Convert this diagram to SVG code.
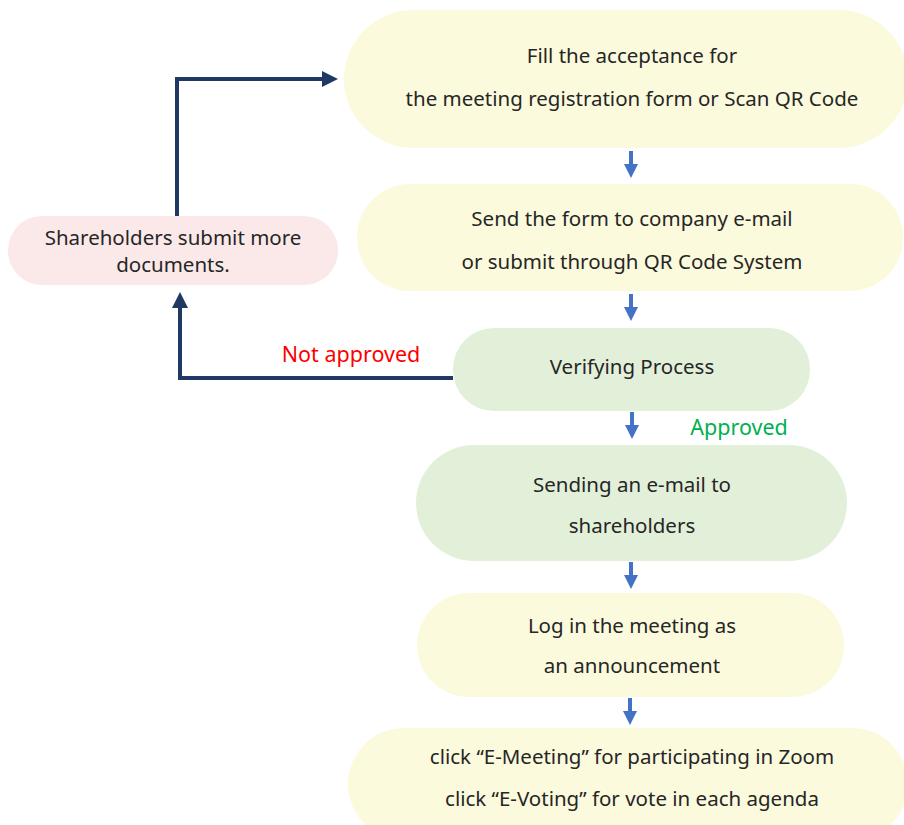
<svg xmlns="http://www.w3.org/2000/svg" width="904" height="825" viewBox="0 0 904 825">
<defs>
<style>
.t{font-family:"Noto Sans","Liberation Sans",sans-serif;font-size:20.5px;fill:#262626;text-anchor:middle}
.l{font-family:"Noto Sans","Liberation Sans",sans-serif;font-size:21.5px;text-anchor:middle}
.y{fill:#FBFADC}
.g{fill:#E2F0D9}
.p{fill:#FBE9E9}
.nav{stroke:#1F3864;stroke-width:4;fill:none}
.blue{stroke:#4472C4;stroke-width:4;fill:none}
</style>
<marker id="ah" markerWidth="4" markerHeight="4" refX="1" refY="2" orient="auto" markerUnits="strokeWidth" viewBox="0 0 4 4"><path d="M0,0 L4,2 L0,4 z" fill="#1F3864"/></marker>
<marker id="bh" markerWidth="4" markerHeight="3.5" refX="1" refY="1.75" orient="auto" markerUnits="strokeWidth" viewBox="0 0 4 3.5"><path d="M0,0 L3.5,1.75 L0,3.5 z" fill="#4472C4"/></marker>
</defs>
<rect width="904" height="825" fill="#fff"/>
<g id="connectors">
<path class="nav" d="M177,216 V79 H326" marker-end="url(#ah)"/>
<path class="nav" d="M453,378 H180 V304" marker-end="url(#ah)"/>
<path class="blue" d="M631,151 V168" marker-end="url(#bh)"/>
<path class="blue" d="M631,294 V311" marker-end="url(#bh)"/>
<path class="blue" d="M632,412 V429" marker-end="url(#bh)"/>
<path class="blue" d="M631,562 V579" marker-end="url(#bh)"/>
<path class="blue" d="M630,698 V715" marker-end="url(#bh)"/>
</g>
<g id="n1"><rect class="y" x="344" y="10" width="564" height="138" rx="69"/>
<text class="t" x="632" y="63">Fill the acceptance for</text>
<text class="t" x="632" y="106">the meeting registration form or Scan QR Code</text></g>
<g id="n2"><rect class="y" x="357" y="184" width="546" height="107" rx="53"/>
<text class="t" x="632" y="226">Send the form to company e-mail</text>
<text class="t" x="632" y="269">or submit through QR Code System</text></g>
<g id="n3"><rect class="p" x="8" y="216" width="330" height="69" rx="34"/>
<text class="t" x="173" y="245">Shareholders submit more</text>
<text class="t" x="173" y="272">documents.</text></g>
<g id="n4"><rect class="g" x="453" y="328" width="357" height="83" rx="41"/>
<text class="t" x="632" y="374">Verifying Process</text></g>
<g id="n5"><rect class="g" x="416" y="445" width="431" height="116" rx="58"/>
<text class="t" x="632" y="492">Sending an e-mail to</text>
<text class="t" x="632" y="533">shareholders</text></g>
<g id="n6"><rect class="y" x="417" y="593" width="427" height="104" rx="52"/>
<text class="t" x="632" y="633">Log in the meeting as</text>
<text class="t" x="632" y="673">an announcement</text></g>
<g id="n7"><rect class="y" x="348" y="728" width="560" height="112" rx="56"/>
<text class="t" x="632" y="764">click “E-Meeting” for participating in Zoom</text>
<text class="t" x="632" y="806">click “E-Voting” for vote in each agenda</text></g>
<g id="labels">
<text class="l" x="351" y="362" fill="#FF0000">Not approved</text>
<text class="l" x="739" y="435" fill="#00B050">Approved</text>
</g>
</svg>
